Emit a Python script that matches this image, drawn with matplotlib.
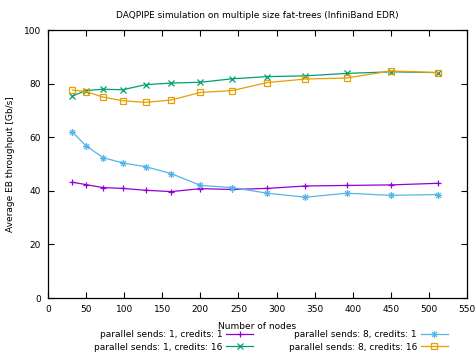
import matplotlib
matplotlib.use("Agg")
import matplotlib.pyplot as plt
from matplotlib.path import Path

nodes = [32, 50, 72, 98, 128, 162, 200, 242, 288, 338, 392, 450, 512]
ps1_c1 = [43.2, 42.3, 41.2, 40.9, 40.2, 39.7, 40.8, 40.5, 40.9, 41.8, 42.0, 42.2, 42.8]
ps1_c16 = [75.4, 77.4, 77.9, 77.7, 79.6, 80.2, 80.5, 81.8, 82.6, 82.9, 83.8, 84.4, 84.1]
ps8_c1 = [61.9, 56.8, 52.4, 50.4, 49.0, 46.4, 42.0, 41.2, 39.1, 37.6, 39.1, 38.3, 38.6]
ps8_c16 = [77.6, 77.0, 75.0, 73.6, 73.0, 73.9, 76.7, 77.4, 80.4, 81.7, 82.1, 84.7, 84.1]

labels = ["parallel sends: 1, credits: 1", "parallel sends: 1, credits: 16",
          "parallel sends: 8, credits: 1", "parallel sends: 8, credits: 16"]
colors = ["#9400d3", "#009e73", "#56b4e9", "#e69f00"]

star = Path([(-1, 0), (1, 0), (0, -1), (0, 1), (-0.7, -0.7), (0.7, 0.7), (-0.7, 0.7), (0.7, -0.7)],
            [Path.MOVETO, Path.LINETO] * 4)

fig = plt.figure(figsize=(4.76, 3.55), dpi=100)
ax = fig.add_axes([48/476, 57/355, 419/476, 268/355])

series = [ps1_c1, ps1_c16, ps8_c1, ps8_c16]
markers = ["+", "x", star, "s"]
for y, lab, c, m in zip(series, labels, colors, markers):
    kw = dict(mfc="none") if m == "s" else {}
    ax.plot(nodes, y, color=c, lw=0.9, marker=m, ms=5, mew=0.9, label=lab, **kw)

ax.set_xlim(0, 550)
ax.set_ylim(0, 100)
ax.set_xticks(range(0, 551, 50))
ax.set_yticks(range(0, 101, 20))
ax.tick_params(direction="in", top=True, right=True, labelsize=6.5, length=4, width=0.8, pad=5)
for s in ax.spines.values():
    s.set_linewidth(0.9)
ax.set_title("DAQPIPE simulation on multiple size fat-trees (InfiniBand EDR)", fontsize=6.5, pad=9)
ax.set_xlabel("Number of nodes", fontsize=6.5, labelpad=6)
ax.set_ylabel("Average EB throughput [Gb/s]", fontsize=6.5, labelpad=6)

h, l = ax.get_legend_handles_labels()
fig.legend(h, l, loc="upper center", bbox_to_anchor=(271/476, 1 - 330/355), ncol=2, frameon=False,
           fontsize=6.5, markerfirst=False, handlelength=3.0, handletextpad=0.4,
           columnspacing=3.9, labelspacing=0.4, borderpad=0, borderaxespad=0)

fig.savefig("out.png", dpi=100)
